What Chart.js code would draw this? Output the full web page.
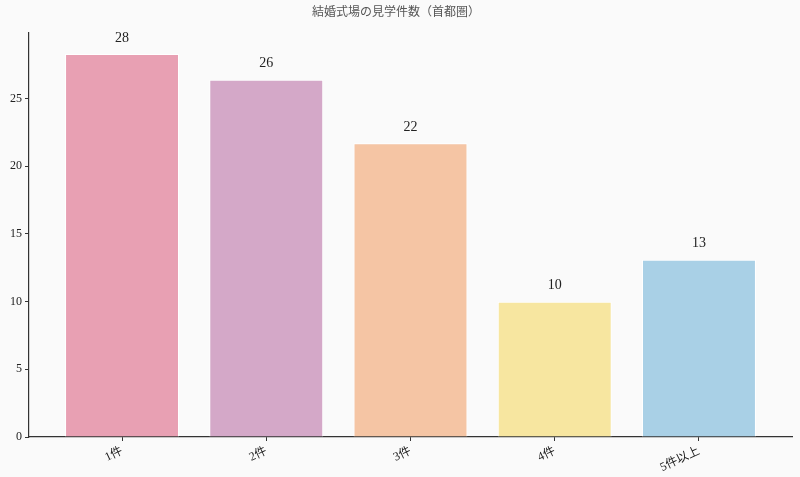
<!DOCTYPE html>
<html>
<head>
<meta charset="UTF-8">
<title>結婚式場の見学件数</title>
<script src="https://cdn.jsdelivr.net/npm/chart.js@4.4.4/dist/chart.umd.min.js"></script>
<style>
html, body { margin:0; padding:0; background:#fafafa; }
#wrap { width:800px; height:477px; }
</style>
</head>
<body>
<div id="wrap"><canvas id="myChart" width="800" height="477"></canvas></div>
<script>
// データ
const categories = ['1件', '2件', '3件', '4件', '5件以上'];
const counts = [28.3, 26.4, 21.7, 10.0, 13.1];
const countLabels = ['28', '26', '22', '10', '13'];
const barColors = ['#e8a0b3', '#d4a8c8', '#f5c5a4', '#f7e6a0', '#a9d0e6'];
const yTicks = [0, 5, 10, 15, 20, 25];

const FONT = '"Liberation Serif", "DejaVu Serif", "Noto Sans CJK JP", serif';

// 棒の上に数値を書く
const valueLabels = {
  id: 'valueLabels',
  afterDatasetsDraw(chart) {
    const ctx = chart.ctx;
    const meta = chart.getDatasetMeta(0);
    ctx.save();
    ctx.font = '14px ' + FONT;
    ctx.fillStyle = '#222';
    ctx.textAlign = 'center';
    ctx.textBaseline = 'middle';
    meta.data.forEach((bar, i) => {
      ctx.fillText(countLabels[i], bar.x, bar.y - 16);
    });
    ctx.restore();
  }
};

const bg = {
  id: 'bg',
  beforeDraw(chart) {
    const ctx = chart.ctx;
    ctx.save();
    ctx.fillStyle = '#fafafa';
    ctx.fillRect(0, 0, chart.width, chart.height);
    ctx.restore();
  }
};

const ctx = document.getElementById('myChart').getContext('2d');
const myChart = new Chart(ctx, {
  type: 'bar',
  data: {
    datasets: [{
      data: counts.map((v, i) => ({ x: i, y: v })),
      backgroundColor: barColors,
      borderColor: '#ffffff',
      borderWidth: 1,
      barPercentage: 0.79,
      categoryPercentage: 1.0
    }]
  },
  options: {
    responsive: false,
    animation: false,
    layout: { padding: { left: 0, right: 8, top: 0, bottom: 0 } },
    plugins: {
      legend: { display: false },
      tooltip: { enabled: false },
      title: {
        display: true,
        text: '結婚式場の見学件数（首都圏）',
        color: '#555',
        font: { family: FONT, size: 12, weight: 'normal' },
        padding: { top: 6, bottom: 12.6 }
      }
    },
    scales: {
      x: {
        type: 'linear',
        min: -0.645,
        max: 4.645,
        offset: false,
        afterBuildTicks(scale) {
          scale.ticks = categories.map((c, i) => ({ value: i }));
        },
        afterFit(scale) { scale.height = 40; },
        ticks: {
          callback: (v) => categories[v],
          maxRotation: 25,
          minRotation: 25,
          color: '#222',
          padding: 3,
          font: { family: FONT, size: 12 }
        },
        grid: { offset: false, drawOnChartArea: false, drawTicks: true, tickLength: 4, color: '#333' },
        border: { display: true, color: '#333', width: 1.2 }
      },
      y: {
        min: 0,
        max: 29.85,
        afterBuildTicks(scale) {
          scale.ticks = yTicks.map(v => ({ value: v }));
        },
        afterFit(scale) { scale.width = 29; },
        ticks: {
          color: '#222',
          padding: 3,
          font: { family: FONT, size: 12 }
        },
        grid: { offset: false, drawOnChartArea: false, drawTicks: true, tickLength: 4, color: '#333' },
        border: { display: true, color: '#333', width: 1.2 }
      }
    }
  },
  plugins: [bg, valueLabels]
});
</script>
</body>
</html>
